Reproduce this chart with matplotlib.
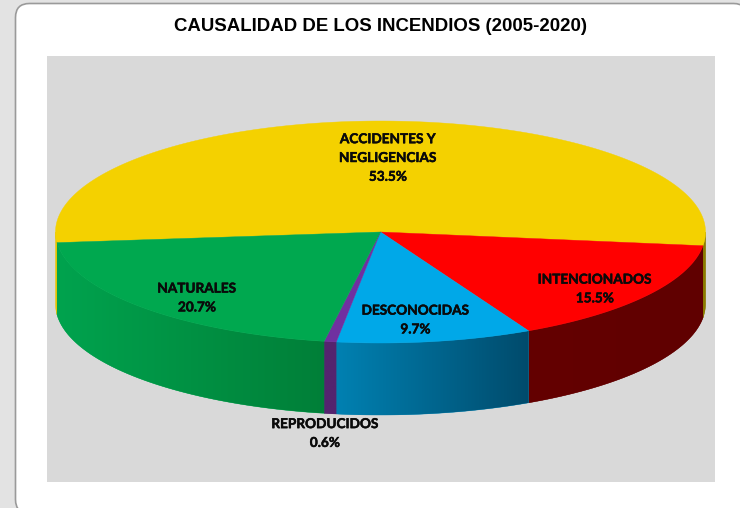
import numpy as np
import matplotlib
matplotlib.use("Agg")
import matplotlib.pyplot as plt
import matplotlib.patheffects as pe
from matplotlib.patches import FancyBboxPatch, Rectangle, Polygon
from matplotlib.colors import LinearSegmentedColormap

title = "CAUSALIDAD DE LOS INCENDIOS (2005-2020)"
categories = ["ACCIDENTES Y\nNEGLIGENCIAS", "INTENCIONADOS", "DESCONOCIDAS", "REPRODUCIDOS", "NATURALES"]
values = [53.5, 15.5, 9.7, 0.6, 20.7]
top_colors = ["#F4D100", "#FF0000", "#00A8E8", "#7030A0", "#00A84F"]
side_colors = [["#E6C400", "#8C7C00"], ["#640000", "#600000"], ["#0081B2", "#004B6C"],
               ["#54246F", "#54246F"], ["#00A34E", "#007F38"]]
label_pos = [(388, 158), (595, 289), (415.5, 320), (325, 433.5), (197, 298)]

cx, cy, rx, ry, depth = 380.5, 232, 325, 111, 72
start = 185.5

fig = plt.figure(figsize=(7.4, 5.08), dpi=100, facecolor="#E3E3E3")
ax = fig.add_axes([0, 0, 1, 1])
ax.set_xlim(0, 740)
ax.set_ylim(508, 0)
ax.set_autoscale_on(False)
ax.axis("off")

ax.add_patch(FancyBboxPatch((15.5, 3.5), 732, 510, boxstyle="round,pad=0,rounding_size=14",
                            fc="white", ec="#9A9A9A", lw=1.2, zorder=1))
ax.add_patch(Rectangle((47, 56), 668, 426, fc="#D9D9D9", ec="none", zorder=2))

angles = start - np.concatenate([[0], np.cumsum(values)]) * 360 / sum(values)


def pt(th):
    t = np.radians(th)
    return cx + rx * np.cos(t), cy - ry * np.sin(t)


def wall(x, y, colors):
    """Draw one wall piece as a horizontal gradient clipped to its outline."""
    if len(x) < 2:
        return
    outline = np.r_[np.c_[x, y], np.c_[x[::-1], y[::-1] + depth]]
    poly = Polygon(outline, closed=True, fc=colors[0], ec=colors[0], lw=0.3, zorder=3)
    ax.add_patch(poly)
    cmap = LinearSegmentedColormap.from_list("s", colors)
    im = ax.imshow(np.linspace(0, 1, 256)[None, :], cmap=cmap, aspect="auto", vmin=0, vmax=1,
                   extent=(x.min(), x.max(), y.max() + depth, y.min()),
                   interpolation="bilinear", zorder=3.1)
    im.set_clip_path(poly)


for i in range(len(values)):
    th = np.linspace(angles[i], angles[i + 1], 600)
    th = th[np.sin(np.radians(th)) <= 0.0]
    x, y = pt(th)
    if i == 0:
        wall(x[x < cx], y[x < cx], [side_colors[0][0]] * 2)
        wall(x[x >= cx], y[x >= cx], [side_colors[0][1]] * 2)
    else:
        wall(x, y, side_colors[i])

for i in range(len(values)):
    th = np.linspace(angles[i], angles[i + 1], 400)
    x, y = pt(th)
    ax.add_patch(Polygon(np.r_[[[cx, cy]], np.c_[x, y]], closed=True, fc=top_colors[i],
                         ec=top_colors[i], lw=0.3, zorder=4))

for name, v, (lx, ly) in zip(categories, values, label_pos):
    ax.text(lx, ly, f"{name}\n{v:.1f}%", ha="center", va="center", family="Lato", fontweight="bold",
            fontsize=9.8, color="#0A0A0A", linespacing=1.68, zorder=6,
            path_effects=[pe.withStroke(linewidth=0.35, foreground="#0A0A0A")])

ax.text(380, 26.6, title, ha="center", va="center", family="Liberation Sans", fontweight="bold",
        fontsize=13.45, color="black", zorder=6)

fig.savefig("out.png", dpi=100, facecolor=fig.get_facecolor())
